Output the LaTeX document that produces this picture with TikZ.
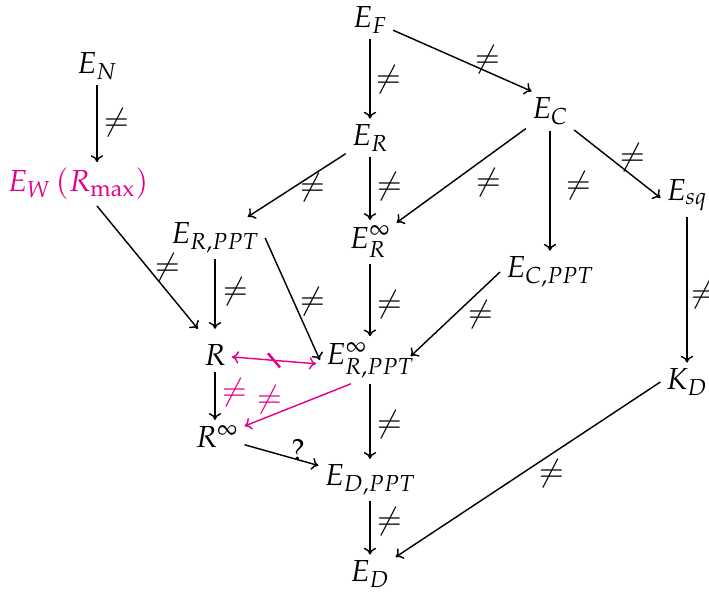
\documentclass[tikz,border=0pt]{standalone}
\usepackage{mathpazo}
\usetikzlibrary{arrows.meta}
\definecolor{mag}{RGB}{229,0,139}
\begin{document}
\begin{tikzpicture}[x=0.526pt,y=-0.526pt,
  obj/.style={inner sep=3pt,font=\fontsize{16}{19}\selectfont},
  ar/.style={-{To[length=3.6pt,width=6.5pt]},line width=0.75pt},
  lab/.style={inner sep=0pt,font=\fontsize{16}{19}\selectfont},
  magar/.style={ar,draw=mag}]
\useasboundingbox (0,0) rectangle (709,592);
% objects
\node[obj] (EF)   at (370,20)  {$E_F$};
\node[obj] (EN)   at (97,66)   {$E_N$};
\node[obj] (ER)   at (370,138) {$E_R$};
\node[obj] (EC)   at (550,111) {$E_C$};
\node[obj,text=mag] (EW) at (78,184) {$E_W\,(R_{\max})$};
\node[obj] (Esq)  at (687,195) {$E_{sq}$};
\node[obj] (ERP)  at (215,238) {$E_{R,PPT}$};
\node[obj] (ERi)  at (370,242) {$E_R^\infty$};
\node[obj] (ECP)  at (550,272) {$E_{C,PPT}$};
\node[obj] (R)    at (215,355) {$R$};
\node[obj] (ERiP) at (370,360) {$E^\infty_{R,PPT}$};
\node[obj] (KD)   at (687,382) {$K_D$};
\node[obj] (Ri)   at (217,437) {$R^\infty$};
\node[obj] (EDP)  at (370,480) {$E_{D,PPT}$};
\node[obj] (ED)   at (370,574) {$E_D$};
\coordinate (Rin) at ([yshift=5pt]R.north);
% arrows
\draw[ar] (EF) -- (ER);
\draw[ar] (EF) -- ([xshift=3pt]EC.north west);
\draw[ar] (EN) -- (EN |- EW.north);
\draw[ar] (ER) -- (ERP);
\draw[ar] (ER) -- (ERi);
\draw[ar] (EC) -- (ERi);
\draw[ar] (EC) -- (ECP);
\draw[ar] (EC) -- ([yshift=-1.5pt]Esq.west);
\draw[ar] (EN |- EW.south) -- ([xshift=-9pt]Rin);
\draw[ar] (ERP) -- (Rin);
\draw[ar] (ERP.east) -- (ERiP.west);
\draw[ar] (ERi) -- (ERiP);
\draw[ar] (ECP.west) -- ([xshift=-5pt,yshift=2pt]ERiP.east);
\draw[ar] (Esq) -- (KD);
\draw[ar] (R) -- (R |- Ri.north);
\draw[ar] (Ri) -- (EDP);
\draw[ar] (ERiP) -- (EDP);
\draw[ar] (EDP) -- (ED);
\draw[ar] (KD.west) -- (ED);
\draw[magar,{To[length=3.6pt,width=6.5pt]}-{To[length=3.6pt,width=6.5pt]}] ([yshift=-1pt]R.east) -- ([xshift=-2pt,yshift=-2pt]ERiP.west) coordinate[pos=0.5] (mid);
\draw[mag,line width=1.3pt] ([shift={(-6,-7)}]mid) -- ([shift={(6,7)}]mid);
\draw[magar] ([xshift=-10pt]ERiP.south) -- (Ri);
% labels
\node[lab] (l1)  at (388,80)  {$\neq$};
\node[lab] (l2)  at (487,60)  {$\neq$};
\node[lab] (l3)  at (116,123) {$\neq$};
\node[lab] (l4)  at (312,188) {$\neq$};
\node[lab] (l5)  at (389,187) {$\neq$};
\node[lab] (l6)  at (488,183) {$\neq$};
\node[lab] (l7)  at (578,186) {$\neq$};
\node[lab] (l8)  at (632,158) {$\neq$};
\node[lab] (l9)  at (167,268) {$\neq$};
\node[lab] (l10) at (235,292) {$\neq$};
\node[lab] (l11) at (312,302) {$\neq$};
\node[lab] (l12) at (389,305) {$\neq$};
\node[lab] (l13) at (480,315) {$\neq$};
\node[lab] (l14) at (703,295) {$\neq$};
\node[lab,text=mag] (l15) at (234,393) {$\neq$};
\node[lab,text=mag] (l16) at (269,400) {$\neq$};
\node[lab] (l17) at (389,425) {$\neq$};
\node[lab] (l18) at (389,522) {$\neq$};
\node[lab] (l19) at (551,474) {$\neq$};
\node[lab] (l20) at (298,450) {$?$};
\end{tikzpicture}
\end{document}
